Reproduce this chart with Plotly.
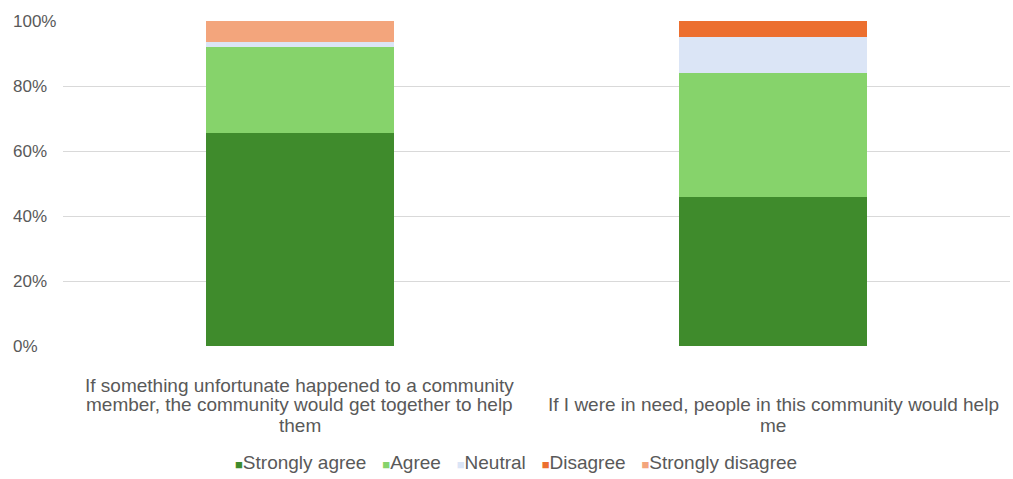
import plotly.graph_objects as go

categories = [
    ["If something unfortunate happened to a community",
     "member, the community would get together to help",
     "them"],
    ["If I were in need, people in this community would help",
     "me"],
]
series_names = ["Strongly agree", "Agree", "Neutral", "Disagree", "Strongly disagree"]
strongly_agree = [65.5, 46.0]
agree = [26.5, 38.0]
neutral = [1.5, 11.0]
disagree = [0.0, 5.0]
strongly_disagree = [6.5, 0.0]
y_ticks = [0, 20, 40, 60, 80, 100]
y_tick_labels = ["0%", "20%", "40%", "60%", "80%", "100%"]

colors = ["#3f8b2c", "#86d36b", "#dbe5f6", "#ec6f2f", "#f3a57c"]
values = [strongly_agree, agree, neutral, disagree, strongly_disagree]

FONT = "Liberation Sans, Arial, sans-serif"
GRAY = "#595959"

# plot area in pixels
W, H = 1013, 479
L, R, T, B = 63, 3, 21, 133
plot_h = H - T - B
plot_w = W - L - R

def py(pix):
    return (H - B - pix) / plot_h

def px(pix):
    return (pix - L) / plot_w

fig = go.Figure()
for name, vals, col in zip(series_names, values, colors):
    fig.add_trace(go.Bar(x=[0, 1], y=vals, name=name,
                         marker=dict(color=col, line=dict(width=0))))

annotations = []
# y tick labels (left aligned)
for v, lab in zip(y_ticks, y_tick_labels):
    annotations.append(dict(x=px(11), xref="paper", y=v, yref="y", text=lab,
                            showarrow=False, xanchor="left", yanchor="middle",
                            font=dict(family=FONT, size=17, color=GRAY)))
# category labels, bottom aligned, one annotation per line
max_lines = max(len(c) for c in categories)
line_gap = 20
first_line_pix = 385
for i, lines in enumerate(categories):
    offset = max_lines - len(lines)
    for j, line in enumerate(lines):
        annotations.append(dict(x=i, xref="x",
                                y=py(first_line_pix + (j + offset) * line_gap), yref="paper",
                                text=line, showarrow=False, xanchor="center", yanchor="middle",
                                font=dict(family=FONT, size=19, color=GRAY)))
# legend
parts = []
for name, col in zip(series_names, colors):
    parts.append(f"<span style='color:{col};font-size:13px'>■</span>{name}")
annotations.append(dict(x=px(516), xref="paper", y=py(463), yref="paper",
                        text="&nbsp;&nbsp;&nbsp;".join(parts), showarrow=False, xanchor="center",
                        yanchor="middle", font=dict(family=FONT, size=19, color=GRAY)))

fig.update_layout(
    barmode="stack",
    bargap=0.603,
    width=W, height=H,
    margin=dict(l=L, r=R, t=T, b=B, autoexpand=False),
    paper_bgcolor="white", plot_bgcolor="white",
    font=dict(family=FONT, size=14, color=GRAY),
    showlegend=False,
    annotations=annotations,
    xaxis=dict(tickvals=[0, 1], showticklabels=False, showgrid=False,
               zeroline=False, showline=False, ticks="", range=[-0.5, 1.5]),
    yaxis=dict(range=[0, 100], tickvals=y_ticks[1:], showticklabels=False, showgrid=True,
               gridcolor="#d9d9d9", gridwidth=1, zeroline=False, showline=False, ticks=""),
)
fig.write_html("out.html")
